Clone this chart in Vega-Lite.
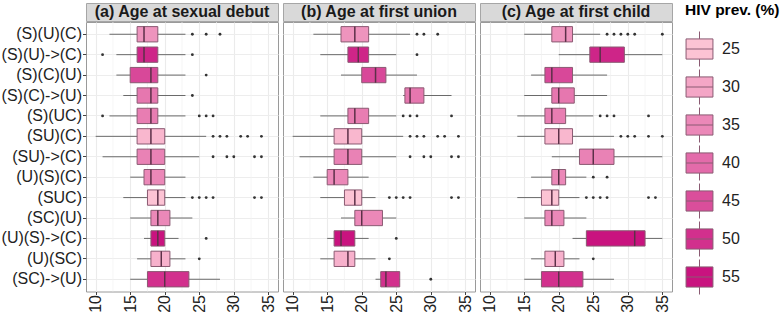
{
  "$schema": "https://vega.github.io/schema/vega-lite/v6.json",
  "padding": {"left": 0, "top": 2, "right": 0, "bottom": 0},
  "spacing": 3,
  "datasets": {
    "strips": [
      {"panel": "a", "title": "(a) Age at sexual debut"},
      {"panel": "b", "title": "(b) Age at first union"},
      {"panel": "c", "title": "(c) Age at first child"}
    ],
    "minor": [{"v": 12.5}, {"v": 17.5}, {"v": 22.5}, {"v": 27.5}, {"v": 32.5}],
    "boxes": [
      {"panel": "a", "cat": "(S)(U)(C)", "lo": 12, "q1": 16, "med": 17, "q3": 19, "hi": 23, "prev": 33},
      {"panel": "a", "cat": "(S)(U)->(C)", "lo": 13, "q1": 16, "med": 17, "q3": 19, "hi": 23, "prev": 52},
      {"panel": "a", "cat": "(S)(C)(U)", "lo": 13, "q1": 15, "med": 18, "q3": 19, "hi": 23, "prev": 46},
      {"panel": "a", "cat": "(S)(C)->(U)", "lo": 14, "q1": 16, "med": 18, "q3": 19, "hi": 23, "prev": 38},
      {"panel": "a", "cat": "(S)(UC)", "lo": 12, "q1": 16, "med": 18, "q3": 19, "hi": 23, "prev": 37},
      {"panel": "a", "cat": "(SU)(C)", "lo": 10, "q1": 16, "med": 18, "q3": 20, "hi": 26, "prev": 27},
      {"panel": "a", "cat": "(SU)->(C)", "lo": 11, "q1": 16, "med": 18, "q3": 20, "hi": 25, "prev": 36},
      {"panel": "a", "cat": "(U)(S)(C)", "lo": 15, "q1": 17, "med": 18, "q3": 20, "hi": 23, "prev": 35},
      {"panel": "a", "cat": "(SUC)", "lo": 14, "q1": 17.5, "med": 19, "q3": 20, "hi": 23, "prev": 25},
      {"panel": "a", "cat": "(SC)(U)", "lo": 15, "q1": 18, "med": 19, "q3": 20.75, "hi": 24, "prev": 35},
      {"panel": "a", "cat": "(U)(S)->(C)", "lo": 17, "q1": 18, "med": 19, "q3": 20, "hi": 22, "prev": 55},
      {"panel": "a", "cat": "(U)(SC)", "lo": 16, "q1": 18, "med": 19.5, "q3": 20.75, "hi": 23, "prev": 28},
      {"panel": "a", "cat": "(SC)->(U)", "lo": 15, "q1": 17.5, "med": 20, "q3": 23.5, "hi": 28, "prev": 50},
      {"panel": "b", "cat": "(S)(U)(C)", "lo": 13, "q1": 17, "med": 19, "q3": 21, "hi": 27, "prev": 33},
      {"panel": "b", "cat": "(S)(U)->(C)", "lo": 14, "q1": 18, "med": 19.5, "q3": 21, "hi": 25, "prev": 52},
      {"panel": "b", "cat": "(S)(C)(U)", "lo": 17, "q1": 20, "med": 22, "q3": 23.5, "hi": 28, "prev": 46},
      {"panel": "b", "cat": "(S)(C)->(U)", "lo": 26, "q1": 26.25, "med": 27, "q3": 29, "hi": 33, "prev": 38},
      {"panel": "b", "cat": "(S)(UC)", "lo": 14, "q1": 18, "med": 19, "q3": 21, "hi": 25, "prev": 37},
      {"panel": "b", "cat": "(SU)(C)", "lo": 10, "q1": 16, "med": 18, "q3": 20, "hi": 26, "prev": 27},
      {"panel": "b", "cat": "(SU)->(C)", "lo": 11, "q1": 16, "med": 18, "q3": 20, "hi": 25, "prev": 36},
      {"panel": "b", "cat": "(U)(S)(C)", "lo": 13, "q1": 15, "med": 16, "q3": 18, "hi": 21, "prev": 35},
      {"panel": "b", "cat": "(SUC)", "lo": 14, "q1": 17.5, "med": 19, "q3": 20, "hi": 22, "prev": 25},
      {"panel": "b", "cat": "(SC)(U)", "lo": 17, "q1": 19, "med": 20, "q3": 23, "hi": 25, "prev": 35},
      {"panel": "b", "cat": "(U)(S)->(C)", "lo": 15, "q1": 16, "med": 17, "q3": 19, "hi": 21, "prev": 55},
      {"panel": "b", "cat": "(U)(SC)", "lo": 14, "q1": 16, "med": 18, "q3": 19, "hi": 22, "prev": 28},
      {"panel": "b", "cat": "(SC)->(U)", "lo": 22, "q1": 22.75, "med": 23.5, "q3": 25.5, "hi": 25.5, "prev": 50},
      {"panel": "c", "cat": "(S)(U)(C)", "lo": 15, "q1": 19, "med": 21, "q3": 22, "hi": 26, "prev": 33},
      {"panel": "c", "cat": "(S)(U)->(C)", "lo": 20, "q1": 24.5, "med": 26, "q3": 29.5, "hi": 35, "prev": 52},
      {"panel": "c", "cat": "(S)(C)(U)", "lo": 16, "q1": 18, "med": 19, "q3": 22, "hi": 27, "prev": 46},
      {"panel": "c", "cat": "(S)(C)->(U)", "lo": 15, "q1": 19, "med": 20, "q3": 22.25, "hi": 27, "prev": 38},
      {"panel": "c", "cat": "(S)(UC)", "lo": 14, "q1": 18, "med": 19, "q3": 21, "hi": 25, "prev": 37},
      {"panel": "c", "cat": "(SU)(C)", "lo": 14, "q1": 18, "med": 20, "q3": 22, "hi": 28, "prev": 27},
      {"panel": "c", "cat": "(SU)->(C)", "lo": 19, "q1": 23, "med": 25, "q3": 28, "hi": 35, "prev": 36},
      {"panel": "c", "cat": "(U)(S)(C)", "lo": 16, "q1": 19, "med": 20, "q3": 21, "hi": 24, "prev": 35},
      {"panel": "c", "cat": "(SUC)", "lo": 14, "q1": 17.5, "med": 19, "q3": 20, "hi": 23, "prev": 25},
      {"panel": "c", "cat": "(SC)(U)", "lo": 15, "q1": 18, "med": 19, "q3": 20.75, "hi": 24, "prev": 35},
      {"panel": "c", "cat": "(U)(S)->(C)", "lo": 22, "q1": 24, "med": 31, "q3": 32.5, "hi": 35, "prev": 55},
      {"panel": "c", "cat": "(U)(SC)", "lo": 16, "q1": 18, "med": 19.5, "q3": 20.75, "hi": 23, "prev": 28},
      {"panel": "c", "cat": "(SC)->(U)", "lo": 15, "q1": 17.5, "med": 20, "q3": 23.5, "hi": 28, "prev": 50}
    ],
    "outliers": [
      {"panel": "a", "cat": "(S)(U)(C)", "v": 24}, {"panel": "a", "cat": "(S)(U)(C)", "v": 26}, {"panel": "a", "cat": "(S)(U)(C)", "v": 28},
      {"panel": "a", "cat": "(S)(U)->(C)", "v": 11}, {"panel": "a", "cat": "(S)(U)->(C)", "v": 24},
      {"panel": "a", "cat": "(S)(C)(U)", "v": 26},
      {"panel": "a", "cat": "(S)(C)->(U)", "v": 24},
      {"panel": "a", "cat": "(S)(UC)", "v": 11}, {"panel": "a", "cat": "(S)(UC)", "v": 25}, {"panel": "a", "cat": "(S)(UC)", "v": 26}, {"panel": "a", "cat": "(S)(UC)", "v": 27},
      {"panel": "a", "cat": "(SU)(C)", "v": 27}, {"panel": "a", "cat": "(SU)(C)", "v": 28}, {"panel": "a", "cat": "(SU)(C)", "v": 29}, {"panel": "a", "cat": "(SU)(C)", "v": 31}, {"panel": "a", "cat": "(SU)(C)", "v": 32}, {"panel": "a", "cat": "(SU)(C)", "v": 34},
      {"panel": "a", "cat": "(SU)->(C)", "v": 27}, {"panel": "a", "cat": "(SU)->(C)", "v": 29}, {"panel": "a", "cat": "(SU)->(C)", "v": 30}, {"panel": "a", "cat": "(SU)->(C)", "v": 33}, {"panel": "a", "cat": "(SU)->(C)", "v": 34},
      {"panel": "a", "cat": "(SUC)", "v": 24}, {"panel": "a", "cat": "(SUC)", "v": 25}, {"panel": "a", "cat": "(SUC)", "v": 26}, {"panel": "a", "cat": "(SUC)", "v": 27}, {"panel": "a", "cat": "(SUC)", "v": 33}, {"panel": "a", "cat": "(SUC)", "v": 34},
      {"panel": "a", "cat": "(U)(S)->(C)", "v": 26},
      {"panel": "a", "cat": "(U)(SC)", "v": 25},
      {"panel": "b", "cat": "(S)(U)(C)", "v": 28}, {"panel": "b", "cat": "(S)(U)(C)", "v": 29}, {"panel": "b", "cat": "(S)(U)(C)", "v": 31},
      {"panel": "b", "cat": "(S)(U)->(C)", "v": 28},
      {"panel": "b", "cat": "(S)(UC)", "v": 26}, {"panel": "b", "cat": "(S)(UC)", "v": 27}, {"panel": "b", "cat": "(S)(UC)", "v": 28}, {"panel": "b", "cat": "(S)(UC)", "v": 33},
      {"panel": "b", "cat": "(SU)(C)", "v": 27}, {"panel": "b", "cat": "(SU)(C)", "v": 28}, {"panel": "b", "cat": "(SU)(C)", "v": 29}, {"panel": "b", "cat": "(SU)(C)", "v": 31}, {"panel": "b", "cat": "(SU)(C)", "v": 32}, {"panel": "b", "cat": "(SU)(C)", "v": 34},
      {"panel": "b", "cat": "(SU)->(C)", "v": 27}, {"panel": "b", "cat": "(SU)->(C)", "v": 29}, {"panel": "b", "cat": "(SU)->(C)", "v": 30}, {"panel": "b", "cat": "(SU)->(C)", "v": 33}, {"panel": "b", "cat": "(SU)->(C)", "v": 34},
      {"panel": "b", "cat": "(SUC)", "v": 24}, {"panel": "b", "cat": "(SUC)", "v": 25}, {"panel": "b", "cat": "(SUC)", "v": 26}, {"panel": "b", "cat": "(SUC)", "v": 27}, {"panel": "b", "cat": "(SUC)", "v": 33}, {"panel": "b", "cat": "(SUC)", "v": 34},
      {"panel": "b", "cat": "(U)(S)->(C)", "v": 25},
      {"panel": "b", "cat": "(U)(SC)", "v": 24},
      {"panel": "b", "cat": "(SC)->(U)", "v": 30},
      {"panel": "c", "cat": "(S)(U)(C)", "v": 27}, {"panel": "c", "cat": "(S)(U)(C)", "v": 28}, {"panel": "c", "cat": "(S)(U)(C)", "v": 29}, {"panel": "c", "cat": "(S)(U)(C)", "v": 30}, {"panel": "c", "cat": "(S)(U)(C)", "v": 31}, {"panel": "c", "cat": "(S)(U)(C)", "v": 35},
      {"panel": "c", "cat": "(S)(UC)", "v": 26}, {"panel": "c", "cat": "(S)(UC)", "v": 27}, {"panel": "c", "cat": "(S)(UC)", "v": 28}, {"panel": "c", "cat": "(S)(UC)", "v": 33},
      {"panel": "c", "cat": "(SU)(C)", "v": 29}, {"panel": "c", "cat": "(SU)(C)", "v": 30}, {"panel": "c", "cat": "(SU)(C)", "v": 31}, {"panel": "c", "cat": "(SU)(C)", "v": 33}, {"panel": "c", "cat": "(SU)(C)", "v": 35},
      {"panel": "c", "cat": "(U)(S)(C)", "v": 25}, {"panel": "c", "cat": "(U)(S)(C)", "v": 27},
      {"panel": "c", "cat": "(SUC)", "v": 24}, {"panel": "c", "cat": "(SUC)", "v": 25}, {"panel": "c", "cat": "(SUC)", "v": 26}, {"panel": "c", "cat": "(SUC)", "v": 27}, {"panel": "c", "cat": "(SUC)", "v": 33}, {"panel": "c", "cat": "(SUC)", "v": 34},
      {"panel": "c", "cat": "(U)(SC)", "v": 25}
    ]
  },
  "hconcat": [
    {
      "bounds": "flush",
      "spacing": 1,
      "vconcat": [
        {
          "width": 192, "height": 18,
          "view": {"fill": "#D9D9D9", "stroke": "#a6a6a6"},
          "data": {"name": "strips"},
          "transform": [{"filter": "datum.panel == 'a'"}],
          "mark": {"type": "text", "font": "Liberation Sans", "fontSize": 16, "fontWeight": "bold", "color": "#1a1a1a", "baseline": "middle"},
          "encoding": {"text": {"field": "title"}}
        },
        {
          "width": 192, "height": 269.5,
          "view": {"stroke": "#9a9a9a"},
          "layer": [
            {
              "data": {"name": "minor"},
              "mark": {"type": "rule", "color": "#F0F0F0", "strokeWidth": 0.7},
              "encoding": {
                "x": {"field": "v", "type": "quantitative", "title": null,
                  "scale": {"domain": [8.6, 36.4], "nice": false, "zero": false},
                  "axis": {"values": [10, 15, 20, 25, 30, 35], "tickCount": 20, "labelAngle": 270, "labelFontSize": 16, "labelColor": "#222", "tickColor": "#444", "tickSize": 3, "gridColor": "#EBEBEB", "gridWidth": 1.1, "domain": false, "labelPadding": 0, "labelOverlap": false, "labelFlush": false, "labelBound": false}}
              }
            },
            {
              "data": {"name": "boxes"},
              "transform": [{"filter": "datum.panel == 'a'"}],
              "mark": {"type": "rule", "color": "#6a6a6a", "strokeWidth": 1},
              "encoding": {
                "y": {"field": "cat", "type": "nominal", "title": null,
                  "scale": {"domain": ["(S)(U)(C)","(S)(U)->(C)","(S)(C)(U)","(S)(C)->(U)","(S)(UC)","(SU)(C)","(SU)->(C)","(U)(S)(C)","(SUC)","(SC)(U)","(U)(S)->(C)","(U)(SC)","(SC)->(U)"], "paddingInner": 0.25, "paddingOuter": 0.225},
                  "axis": {"labelFontSize": 16, "labelColor": "#222", "tickColor": "#444", "tickSize": 3.5, "labelPadding": 1, "domain": false, "grid": true, "gridColor": "#EDEDED"}},
                "x": {"field": "lo", "type": "quantitative"},
                "x2": {"field": "hi"}
              }
            },
            {
              "data": {"name": "boxes"},
              "transform": [{"filter": "datum.panel == 'a'"}],
              "mark": {"type": "bar", "stroke": "#8a5a72", "strokeWidth": 1, "opacity": 1},
              "encoding": {
                "y": {"field": "cat", "type": "nominal"},
                "x": {"field": "q1", "type": "quantitative"},
                "x2": {"field": "q3"},
                "color": {"field": "prev", "type": "quantitative", "title": "HIV prev. (%)",
                  "scale": {"domain": [25, 55], "range": ["#fcc3d4", "#c9137f"], "interpolate": "rgb"},
                  "legend": {"type": "symbol", "values": [25, 30, 35, 40, 45, 50, 55], "direction": "vertical",
                    "symbolType": "M-0.96,-0.72H0.96V0.72H-0.96Z M-0.96,0H0.96 M0,-0.72V-1.25 M0,0.72V1.25",
                    "symbolSize": 784, "symbolStrokeColor": "#8a5a72", "symbolStrokeWidth": 1, "symbolOpacity": 1,
                    "titleFontSize": 15.5, "titleFont": "Liberation Sans", "titleFontWeight": "bold", "titleColor": "#000",
                    "labelFontSize": 16, "labelFont": "Liberation Sans", "labelColor": "#222",
                    "rowPadding": -1, "labelOffset": 8, "offset": 12, "titlePadding": 16, "format": "d"}}
              }
            },
            {
              "data": {"name": "boxes"},
              "transform": [{"filter": "datum.panel == 'a'"}],
              "mark": {"type": "tick", "color": "#5c3048", "thickness": 1.5, "size": 15.3, "opacity": 1},
              "encoding": {"y": {"field": "cat", "type": "nominal"}, "x": {"field": "med", "type": "quantitative"}}
            },
            {
              "data": {"name": "outliers"},
              "transform": [{"filter": "datum.panel == 'a'"}],
              "mark": {"type": "circle", "color": "#333333", "size": 8, "opacity": 1},
              "encoding": {"y": {"field": "cat", "type": "nominal"}, "x": {"field": "v", "type": "quantitative"}}
            }
          ]
        }
      ]
    },
    {
      "bounds": "flush",
      "spacing": 1,
      "vconcat": [
        {
          "width": 192, "height": 18,
          "view": {"fill": "#D9D9D9", "stroke": "#a6a6a6"},
          "data": {"name": "strips"},
          "transform": [{"filter": "datum.panel == 'b'"}],
          "mark": {"type": "text", "font": "Liberation Sans", "fontSize": 16, "fontWeight": "bold", "color": "#1a1a1a", "baseline": "middle"},
          "encoding": {"text": {"field": "title"}}
        },
        {
          "width": 192, "height": 269.5,
          "view": {"stroke": "#9a9a9a"},
          "layer": [
            {
              "data": {"name": "minor"},
              "mark": {"type": "rule", "color": "#F0F0F0", "strokeWidth": 0.7},
              "encoding": {
                "x": {"field": "v", "type": "quantitative", "title": null,
                  "scale": {"domain": [8.6, 36.4], "nice": false, "zero": false},
                  "axis": {"values": [10, 15, 20, 25, 30, 35], "tickCount": 20, "labelAngle": 270, "labelFontSize": 16, "labelColor": "#222", "tickColor": "#444", "tickSize": 3, "gridColor": "#EBEBEB", "gridWidth": 1.1, "domain": false, "labelPadding": 0, "labelOverlap": false, "labelFlush": false, "labelBound": false}}
              }
            },
            {
              "data": {"name": "boxes"},
              "transform": [{"filter": "datum.panel == 'b'"}],
              "mark": {"type": "rule", "color": "#6a6a6a", "strokeWidth": 1},
              "encoding": {
                "y": {"field": "cat", "type": "nominal", "title": null,
                  "scale": {"domain": ["(S)(U)(C)","(S)(U)->(C)","(S)(C)(U)","(S)(C)->(U)","(S)(UC)","(SU)(C)","(SU)->(C)","(U)(S)(C)","(SUC)","(SC)(U)","(U)(S)->(C)","(U)(SC)","(SC)->(U)"], "paddingInner": 0.25, "paddingOuter": 0.225},
                  "axis": {"labels": false, "ticks": false, "domain": false, "grid": true, "gridColor": "#EDEDED"}},
                "x": {"field": "lo", "type": "quantitative"},
                "x2": {"field": "hi"}
              }
            },
            {
              "data": {"name": "boxes"},
              "transform": [{"filter": "datum.panel == 'b'"}],
              "mark": {"type": "bar", "stroke": "#8a5a72", "strokeWidth": 1, "opacity": 1},
              "encoding": {
                "y": {"field": "cat", "type": "nominal"},
                "x": {"field": "q1", "type": "quantitative"},
                "x2": {"field": "q3"},
                "color": {"field": "prev", "type": "quantitative", "title": "HIV prev. (%)"}
              }
            },
            {
              "data": {"name": "boxes"},
              "transform": [{"filter": "datum.panel == 'b'"}],
              "mark": {"type": "tick", "color": "#5c3048", "thickness": 1.5, "size": 15.3, "opacity": 1},
              "encoding": {"y": {"field": "cat", "type": "nominal"}, "x": {"field": "med", "type": "quantitative"}}
            },
            {
              "data": {"name": "outliers"},
              "transform": [{"filter": "datum.panel == 'b'"}],
              "mark": {"type": "circle", "color": "#333333", "size": 8, "opacity": 1},
              "encoding": {"y": {"field": "cat", "type": "nominal"}, "x": {"field": "v", "type": "quantitative"}}
            }
          ]
        }
      ]
    },
    {
      "bounds": "flush",
      "spacing": 1,
      "vconcat": [
        {
          "width": 192, "height": 18,
          "view": {"fill": "#D9D9D9", "stroke": "#a6a6a6"},
          "data": {"name": "strips"},
          "transform": [{"filter": "datum.panel == 'c'"}],
          "mark": {"type": "text", "font": "Liberation Sans", "fontSize": 16, "fontWeight": "bold", "color": "#1a1a1a", "baseline": "middle"},
          "encoding": {"text": {"field": "title"}}
        },
        {
          "width": 192, "height": 269.5,
          "view": {"stroke": "#9a9a9a"},
          "layer": [
            {
              "data": {"name": "minor"},
              "mark": {"type": "rule", "color": "#F0F0F0", "strokeWidth": 0.7},
              "encoding": {
                "x": {"field": "v", "type": "quantitative", "title": null,
                  "scale": {"domain": [8.6, 36.4], "nice": false, "zero": false},
                  "axis": {"values": [10, 15, 20, 25, 30, 35], "tickCount": 20, "labelAngle": 270, "labelFontSize": 16, "labelColor": "#222", "tickColor": "#444", "tickSize": 3, "gridColor": "#EBEBEB", "gridWidth": 1.1, "domain": false, "labelPadding": 0, "labelOverlap": false, "labelFlush": false, "labelBound": false}}
              }
            },
            {
              "data": {"name": "boxes"},
              "transform": [{"filter": "datum.panel == 'c'"}],
              "mark": {"type": "rule", "color": "#6a6a6a", "strokeWidth": 1},
              "encoding": {
                "y": {"field": "cat", "type": "nominal", "title": null,
                  "scale": {"domain": ["(S)(U)(C)","(S)(U)->(C)","(S)(C)(U)","(S)(C)->(U)","(S)(UC)","(SU)(C)","(SU)->(C)","(U)(S)(C)","(SUC)","(SC)(U)","(U)(S)->(C)","(U)(SC)","(SC)->(U)"], "paddingInner": 0.25, "paddingOuter": 0.225},
                  "axis": {"labels": false, "ticks": false, "domain": false, "grid": true, "gridColor": "#EDEDED"}},
                "x": {"field": "lo", "type": "quantitative"},
                "x2": {"field": "hi"}
              }
            },
            {
              "data": {"name": "boxes"},
              "transform": [{"filter": "datum.panel == 'c'"}],
              "mark": {"type": "bar", "stroke": "#8a5a72", "strokeWidth": 1, "opacity": 1},
              "encoding": {
                "y": {"field": "cat", "type": "nominal"},
                "x": {"field": "q1", "type": "quantitative"},
                "x2": {"field": "q3"},
                "color": {"field": "prev", "type": "quantitative", "title": "HIV prev. (%)"}
              }
            },
            {
              "data": {"name": "boxes"},
              "transform": [{"filter": "datum.panel == 'c'"}],
              "mark": {"type": "tick", "color": "#5c3048", "thickness": 1.5, "size": 15.3, "opacity": 1},
              "encoding": {"y": {"field": "cat", "type": "nominal"}, "x": {"field": "med", "type": "quantitative"}}
            },
            {
              "data": {"name": "outliers"},
              "transform": [{"filter": "datum.panel == 'c'"}],
              "mark": {"type": "circle", "color": "#333333", "size": 8, "opacity": 1},
              "encoding": {"y": {"field": "cat", "type": "nominal"}, "x": {"field": "v", "type": "quantitative"}}
            }
          ]
        }
      ]
    }
  ],
  "resolve": {"scale": {"color": "shared"}, "legend": {"color": "shared"}},
  "config": {
    "font": "Liberation Sans",
    "axis": {"labelFont": "Liberation Sans", "labelOverlap": false},
    "axisX": {"labelOverlap": false},
    "legend": {"labelFont": "Liberation Sans", "titleFont": "Liberation Sans"}
  }
}
